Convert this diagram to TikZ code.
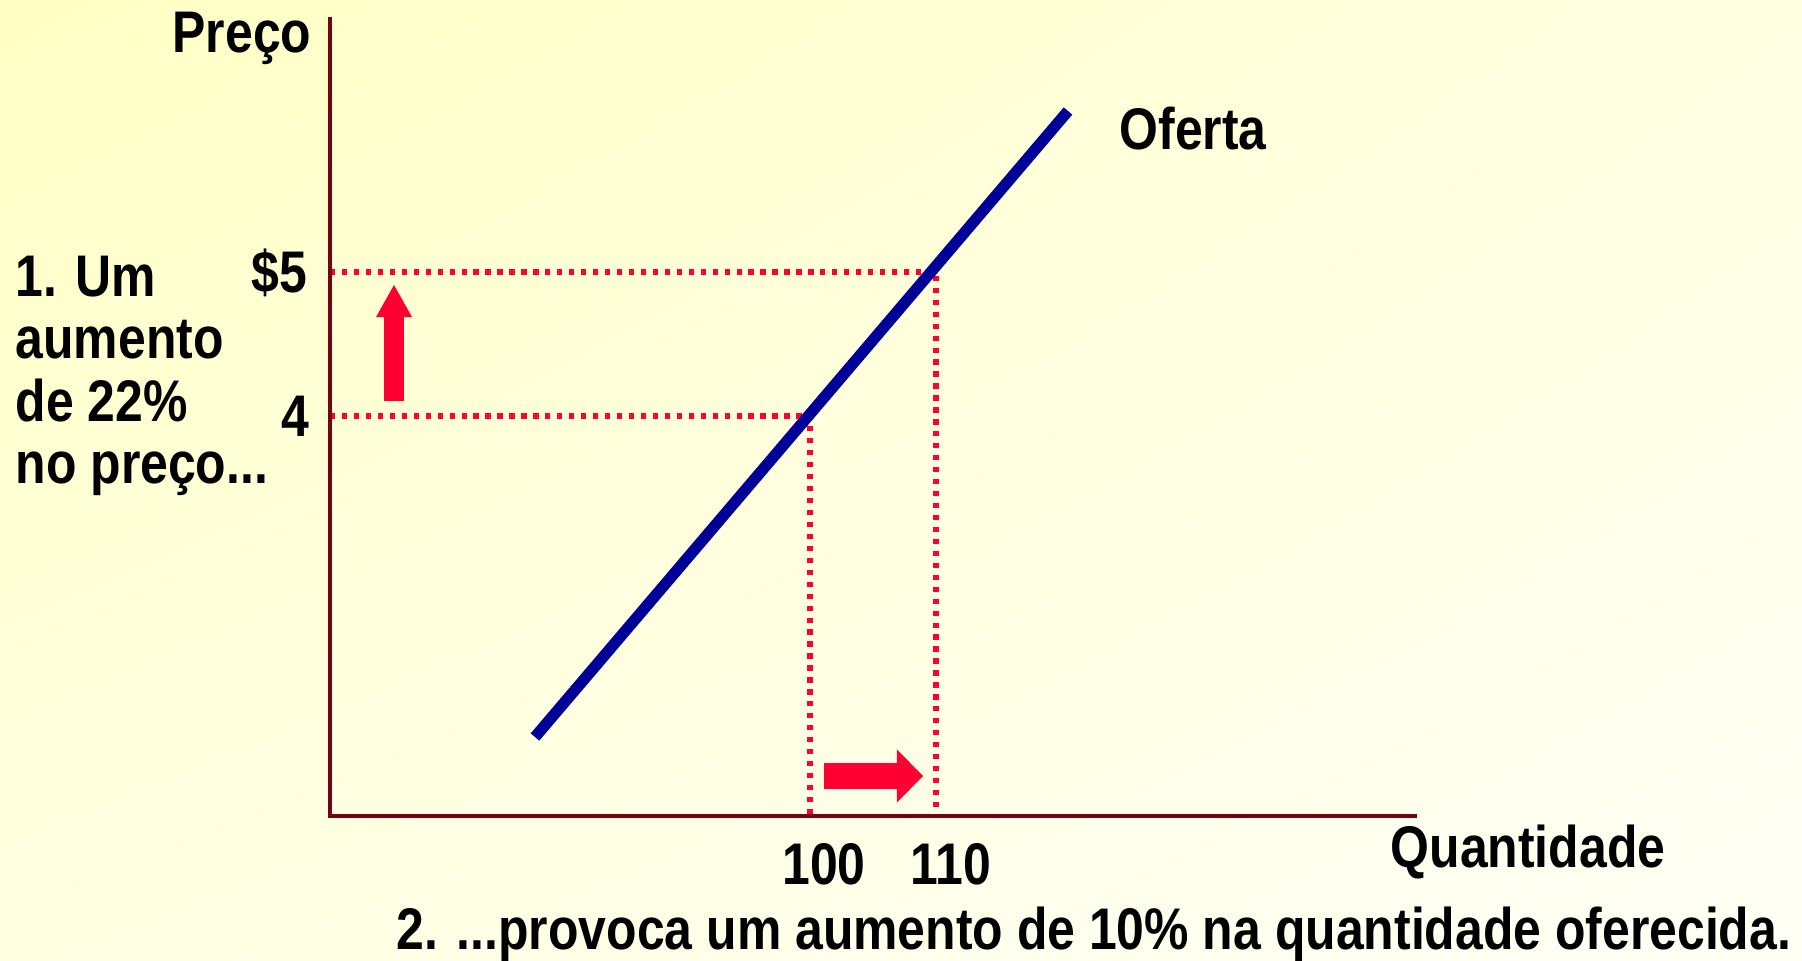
\documentclass[tikz,border=0pt]{standalone}
\usepackage{fontspec}
\setmainfont{Liberation Sans}[FakeStretch=0.85]
\usetikzlibrary{arrows.meta, shadings}

\definecolor{eixo}{RGB}{119,0,17}
\definecolor{curva}{RGB}{0,0,153}
\definecolor{vermelho}{RGB}{255,0,51}
\definecolor{fundoA}{RGB}{255,255,196}
\definecolor{fundoM}{RGB}{255,255,226}
\definecolor{fundoB}{RGB}{255,255,246}

\tikzset{
  rotulo/.style={inner sep=0pt, font=\fontsize{16.7}{17.8}\selectfont\bfseries},
  guia/.style={vermelho, line width=1.6pt, dash pattern=on 1.5pt off 1.9pt},
  setasobe/.style={vermelho, line width=0.2cm, -{Triangle[width=0.36cm, length=0.32cm, line width=0pt]}},
  setalado/.style={vermelho, line width=0.26cm, -{Triangle[width=0.53cm, length=0.26cm, line width=0pt]}}
}

\begin{document}
\begin{tikzpicture}[x=0.01cm, y=-0.01cm]

\shade[upper left=fundoA, upper right=fundoM, lower left=fundoM, lower right=fundoB] (0,0) rectangle (1802,961);
\useasboundingbox (0,0) rectangle (1802,961);

\coordinate (topo) at (330,17);
\coordinate (origem) at (330,816);
\coordinate (fim) at (1417,816);
\coordinate (baixo) at (535,737);
\coordinate (alto) at (1068,111);
\coordinate (p5) at (330,272);
\coordinate (p4) at (330,416);
\coordinate (q110) at (936,272);
\coordinate (q100) at (810,416);

% linhas pontilhadas
\draw[guia] (p5) -- (q110) -- (q110 |- origem);
\draw[guia] (p4) -- (q100) -- (q100 |- origem);

% oferta
\draw[curva, line width=3.2pt] (baixo) -- (alto);

% eixos
\draw[eixo, line width=1.4pt] (topo) -- (origem) -- (fim);

% setas
\coordinate (s1) at (394,401);
\coordinate (s2) at (394,285);
\coordinate (s3) at (824,776);
\coordinate (s4) at (923,776);
\draw[setasobe] (s1) -- (s2);
\draw[setalado] (s3) -- (s4);

\node[rotulo, anchor=base east] (preco) at (312,53) {Preço};
\node[rotulo, anchor=base east] (cinco) at (308,293) {\$5};
\node[rotulo, anchor=base east] (quatro) at (310,437) {4};
\node[rotulo, anchor=base west] (oferta) at (1119,150) {Oferta};
\node[rotulo, anchor=base] (cem) at (824,885) {100};
\node[rotulo, anchor=base] (centodez) at (951,885) {110};
\node[rotulo, anchor=base west] (quant) at (1390,868) {Quantidade};
\node[rotulo, align=left, anchor=north west] (nota1) at (15,255) {1. Um\\aumento\\de 22\%\\no preço...};
\node[rotulo, anchor=base west] (nota2) at (396,949) {2. ...provoca um aumento de 10\% na quantidade oferecida.};

\end{tikzpicture}
\end{document}
